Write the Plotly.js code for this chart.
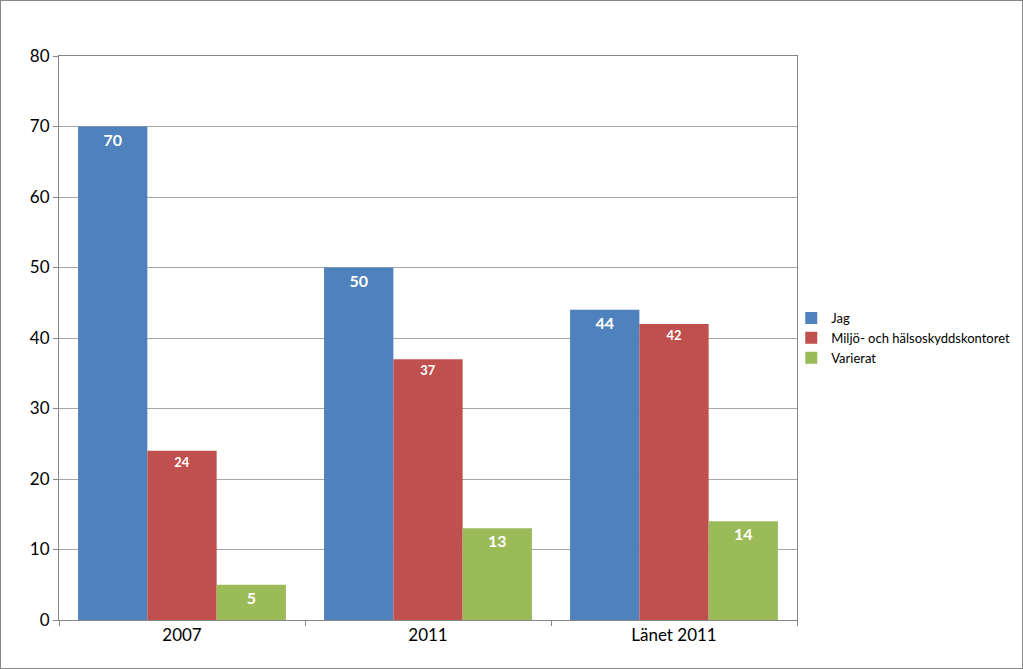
<!DOCTYPE html>
<html>
<head>
<meta charset="utf-8">
<script src="https://cdn.plot.ly/plotly-3.0.1.min.js"></script>
<style>
  body { margin: 0; background: #fff; }
  #chart { width: 1021px; height: 667px; border: 1px solid #878787; }
</style>
</head>
<body>
<div id="chart"></div>
<script>
var categories = ['2007', '2011', 'Länet 2011'];
var jag = [70, 50, 44];
var miljo = [24, 37, 42];
var varierat = [5, 13, 14];

function makeBar(name, values, color, size) {
  return {
    type: 'bar',
    name: name,
    x: categories,
    y: values,
    marker: {color: color},
    text: values.map(String),
    textposition: 'inside',
    insidetextanchor: 'end',
    textangle: 0,
    insidetextfont: {family: 'Lato, Open Sans, sans-serif', size: size, color: '#ffffff', weight: 'bold'},
    hoverinfo: 'none'
  };
}

var data = [
  makeBar('Jag', jag, '#4f81bd', 16),
  makeBar('Miljö- och hälsoskyddskontoret', miljo, '#c0504d', 13),
  makeBar('Varierat', varierat, '#9bbb59', 16)
];

var layout = {
  width: 1021,
  height: 667,
  margin: {l: 58, r: 225, t: 55, b: 48, autoexpand: false},
  barmode: 'group',
  bargap: 0.155,
  bargroupgap: 0,
  paper_bgcolor: '#ffffff',
  plot_bgcolor: '#ffffff',
  font: {family: 'Lato, Open Sans, sans-serif', color: '#000000'},
  xaxis: {
    type: 'category',
    showline: true,
    linecolor: '#868686',
    mirror: true,
    ticks: 'outside',
    tickson: 'boundaries',
    ticklen: 5,
    tickcolor: '#868686',
    tickfont: {size: 17},
    showgrid: false
  },
  yaxis: {
    range: [0, 80],
    dtick: 10,
    showline: true,
    linecolor: '#868686',
    mirror: true,
    ticks: 'outside',
    ticklen: 5,
    tickcolor: '#868686',
    gridcolor: '#a6a6a6',
    tickfont: {size: 17},
    zeroline: false
  },
  legend: {
    xref: 'container',
    x: 0.774,
    y: 0.5,
    yanchor: 'middle',
    xanchor: 'left',
    bgcolor: 'rgba(0,0,0,0)',
    font: {size: 13},
    itemwidth: 30,
    tracegroupgap: 8
  },
  showlegend: true
};

Plotly.newPlot('chart', data, layout, {displayModeBar: false, staticPlot: true});
</script>
</body>
</html>
